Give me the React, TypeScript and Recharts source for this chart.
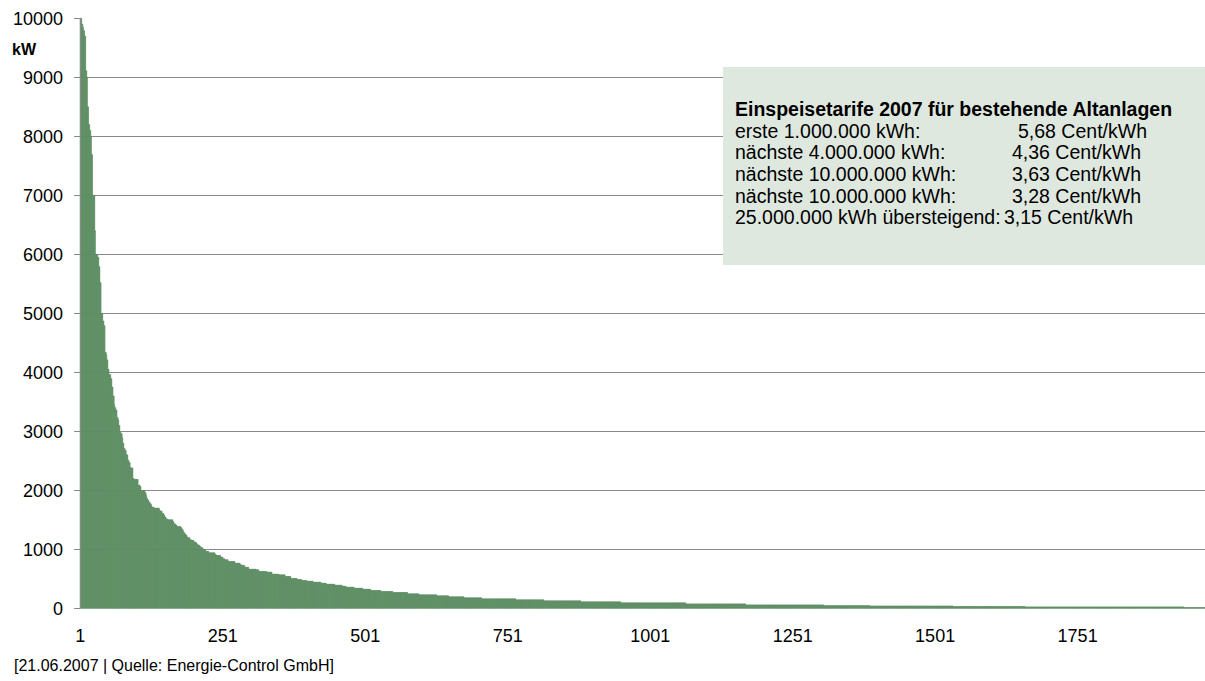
import React from 'react';
import { BarChart, Bar, XAxis, YAxis, CartesianGrid } from 'recharts';

// Number of plants (ranked by installed capacity, descending)
const PLANT_COUNT = 1974;

// Capacity runs: [first rank of run, kW]
const headRuns: [number, number][] = [
  [1, 10000], [4, 9900], [6, 9850], [7, 9790], [9, 9700], [11, 9110], [13, 9000], [14, 8500],
  [16, 8200], [18, 8100], [20, 8000], [21, 7690], [23, 7000], [27, 6400], [28, 6000], [32, 5950],
  [34, 5790], [36, 5520],
];
const steepRuns: [number, number][] = [
  [38, 5000], [41, 4870], [43, 4790], [45, 4340], [47, 4300], [48, 4210], [50, 4050], [52, 3960],
  [55, 3890], [57, 3750], [59, 3600], [61, 3450], [62, 3400], [64, 3360], [66, 3230], [68, 3190],
  [69, 3100], [71, 2980], [73, 2960], [75, 2890], [76, 2800], [78, 2710], [80, 2680], [82, 2610],
  [83, 2600], [85, 2510], [87, 2470], [89, 2390], [90, 2380], [94, 2200], [96, 2185], [103, 2090],
  [106, 2070], [108, 1990], [115, 1960], [117, 1910], [118, 1860], [120, 1830], [122, 1800], [124, 1770],
  [126, 1750], [127, 1715], [131, 1700], [140, 1675], [141, 1650], [145, 1610], [148, 1580], [150, 1545],
  [152, 1515], [155, 1500], [164, 1465], [166, 1430], [169, 1410], [171, 1385], [178, 1365], [180, 1335],
  [182, 1305], [183, 1280], [185, 1260], [187, 1235], [189, 1210], [190, 1195], [194, 1160], [197, 1150],
  [201, 1125], [204, 1110], [206, 1090], [208, 1070], [211, 1050], [213, 1025], [217, 995], [220, 985],
];
const kneeRuns: [number, number][] = [
  [222, 965], [227, 940], [238, 912], [240, 895], [248, 867], [252, 839], [255, 822], [261, 793],
  [273, 765], [282, 737], [285, 726], [290, 697], [297, 663], [310, 652], [315, 624], [329, 613],
  [338, 579], [350, 567], [361, 539], [371, 505], [382, 488], [390, 471], [399, 460], [410, 443],
  [424, 426], [433, 409], [448, 392], [461, 375], [468, 358], [482, 341], [497, 324], [511, 302],
  [529, 285], [550, 268],
];
const tailRuns: [number, number][] = [
  [576, 245], [596, 228], [627, 211], [648, 194], [675, 177], [706, 160], [766, 143], [815, 126],
  [880, 109], [950, 92], [1064, 75], [1169, 58], [1306, 45], [1387, 40], [1533, 30], [1659, 24],
  [1938, 12],
];

const yTicks = [0, 1000, 2000, 3000, 4000, 5000, 6000, 7000, 8000, 9000, 10000];
const gridValues = [1000, 2000, 3000, 4000, 5000, 6000, 7000, 8000, 9000];
const unitLabel = 'kW';
const sourceNote = '[21.06.2007 | Quelle: Energie-Control GmbH]';
const tariffTitle = 'Einspeisetarife 2007 für bestehende Altanlagen';
const tariffBands = [
  'erste 1.000.000 kWh:',
  'nächste 4.000.000 kWh:',
  'nächste 10.000.000 kWh:',
  'nächste 10.000.000 kWh:',
  '25.000.000 kWh übersteigend:',
];
const tariffRates = ['5,68 Cent/kWh', '4,36 Cent/kWh', '3,63 Cent/kWh', '3,28 Cent/kWh', '3,15 Cent/kWh'];

const allRuns = [...headRuns, ...steepRuns, ...kneeRuns, ...tailRuns];
const data: { rank: number; kW: number }[] = [];
{
  let j = 0;
  for (let rank = 1; rank <= PLANT_COUNT; rank++) {
    while (j + 1 < allRuns.length && allRuns[j + 1][0] <= rank) j++;
    data.push({ rank, kW: allRuns[j][1] });
  }
}

const FONT = "'Liberation Sans', Arial, Helvetica, sans-serif";
const BAR_COLOR = '#5e8f64';
const GRID_COLOR = '#8a8a8a';

export default function App() {
  const rateX = [1018, 1012, 1012, 1012, 1004];
  const rowTop = [120.5, 142, 163.5, 185.5, 207];
  return (
    <div style={{ position: 'absolute', left: 0, top: 0, width: 1205, height: 681, background: '#fff', fontFamily: FONT, overflow: 'hidden' }}>
      <BarChart
        width={1205}
        height={681}
        data={data}
        margin={{ top: 18.3, right: 0, bottom: 42.7, left: 0 }}
        barCategoryGap={0}
        barGap={0}
      >
        <CartesianGrid vertical={false} stroke={GRID_COLOR} horizontalValues={gridValues} shapeRendering="crispEdges" />
        <XAxis
          dataKey="rank"
          type="category"
          interval={249}
          axisLine={false}
          tickLine={false}
          tickSize={0}
          tickMargin={20.5}
          height={30}
          tick={{ fontSize: 18, fill: '#000', fontFamily: FONT }}
        />
        <YAxis
          type="number"
          domain={[0, 10000]}
          ticks={yTicks}
          interval={0}
          width={80}
          axisLine={{ stroke: GRID_COLOR, shapeRendering: 'crispEdges' }}
          tickLine={{ stroke: GRID_COLOR, shapeRendering: 'crispEdges' }}
          tickSize={6}
          tickMargin={11}
          tick={{ fontSize: 18, fill: '#000', fontFamily: FONT }}
        />
        <Bar dataKey="kW" fill={BAR_COLOR} stroke={BAR_COLOR} strokeWidth={0.5} isAnimationActive={false} />
      </BarChart>

      <div style={{ position: 'absolute', left: 12, top: 41, fontSize: 16, fontWeight: 'bold', color: '#000', lineHeight: '18px' }}>
        {unitLabel}
      </div>

      <div style={{ position: 'absolute', left: 723, top: 67, width: 482, height: 198, background: '#dfe8df' }} />
      <div style={{ position: 'absolute', left: 735, top: 98.5, fontSize: 19.5, fontWeight: 'bold', color: '#000', lineHeight: '21.7px', whiteSpace: 'nowrap' }}>
        {tariffTitle}
      </div>
      {tariffBands.map((band, i) => (
        <React.Fragment key={i}>
          <div style={{ position: 'absolute', left: 735, top: rowTop[i], fontSize: 19.5, color: '#000', lineHeight: '21.7px', whiteSpace: 'nowrap' }}>
            {band}
          </div>
          <div style={{ position: 'absolute', left: rateX[i], top: rowTop[i], fontSize: 19.5, color: '#000', lineHeight: '21.7px', whiteSpace: 'nowrap' }}>
            {tariffRates[i]}
          </div>
        </React.Fragment>
      ))}

      <div style={{ position: 'absolute', left: 14, top: 656, fontSize: 16, color: '#000', lineHeight: '20px', whiteSpace: 'nowrap' }}>
        {sourceNote}
      </div>
    </div>
  );
}
